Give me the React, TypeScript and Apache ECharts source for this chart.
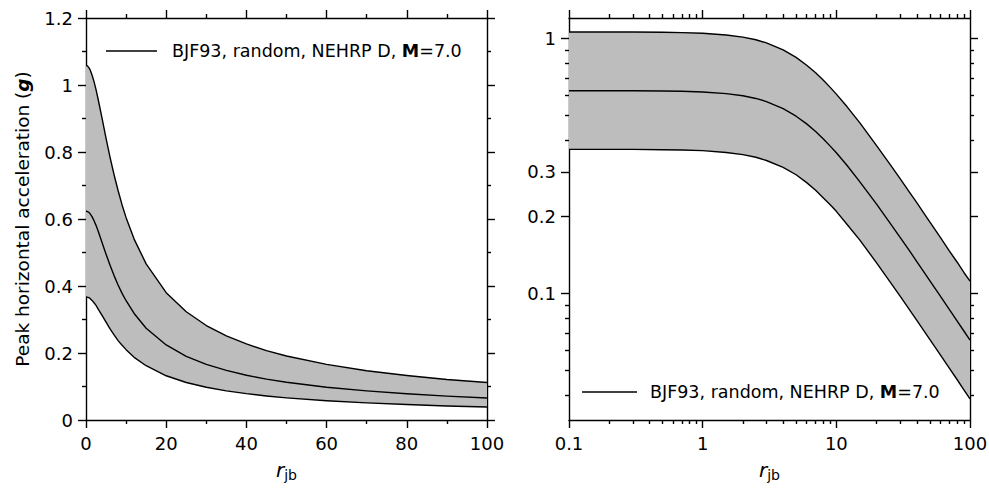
import React, { useEffect, useRef } from 'react';
import * as echarts from 'echarts';

// ---- data (BJF93, random component, NEHRP D, M = 7.0) ----
const SERIES_NAME = 'BJF93, random, NEHRP D, M = 7.0';
const distances = [0, 0.1, 0.2, 0.3, 0.5, 0.7, 1, 1.5, 2, 2.5, 3, 4, 5, 6, 7, 8, 9, 10, 12, 15, 20, 25, 30, 35, 40, 45, 50, 60, 70, 80, 90, 100];
const pgaMedian = [0.623, 0.623, 0.623, 0.623, 0.621, 0.620, 0.616, 0.607, 0.595, 0.581, 0.565, 0.530, 0.495, 0.462, 0.431, 0.403, 0.378, 0.356, 0.318, 0.274, 0.224, 0.190, 0.166, 0.148, 0.1335, 0.122, 0.1125, 0.0978, 0.0868, 0.0782, 0.0714, 0.0658];
const pgaUpper = [1.058, 1.058, 1.058, 1.057, 1.055, 1.052, 1.046, 1.030, 1.010, 0.986, 0.959, 0.901, 0.841, 0.784, 0.732, 0.685, 0.642, 0.604, 0.540, 0.466, 0.380, 0.323, 0.282, 0.251, 0.227, 0.207, 0.191, 0.166, 0.147, 0.133, 0.121, 0.112];
const pgaLower = [0.367, 0.367, 0.367, 0.367, 0.366, 0.365, 0.363, 0.357, 0.350, 0.342, 0.332, 0.312, 0.292, 0.272, 0.254, 0.237, 0.223, 0.210, 0.187, 0.162, 0.132, 0.112, 0.0978, 0.0870, 0.0786, 0.0718, 0.0662, 0.0576, 0.0511, 0.0461, 0.0420, 0.0387];

// ---- tick labels ----
const linXTicks = [0, 20, 40, 60, 80, 100];
const linYTicks = [0, 0.2, 0.4, 0.6, 0.8, 1, 1.2];
const logXTicks = [0.1, 1, 10, 100];
const logXMinor = [0.2, 0.3, 0.4, 0.5, 0.6, 0.7, 0.8, 0.9, 2, 3, 4, 5, 6, 7, 8, 9, 20, 30, 40, 50, 60, 70, 80, 90];
const logYTicks = [0.1, 0.2, 0.3, 1];
const logYMinor = [0.04, 0.05, 0.06, 0.07, 0.08, 0.09, 0.4, 0.5, 0.6, 0.7, 0.8, 0.9];
const logYRange = [0.032, 1.2];

const FONT = 'DejaVu Sans';
const BLACK = '#000';
const BAND = '#bdbdbd';
const LW = 1.4;
const TICK_FS = 18;

const lg = (v: number) => Math.log10(v);
const fmtFrom = (ticks: number[]) => (v: number) => {
  const t = ticks.find((k) => Math.abs(lg(k) - v) < 1e-6);
  return t === undefined ? '' : String(t);
};

const lineStyle = { color: BLACK, width: LW };
const labelStyle = { fontFamily: FONT, fontSize: TICK_FS, color: BLACK };
const xNameRich = {
  r: { fontFamily: FONT, fontSize: 20, fontStyle: 'italic', color: BLACK },
  s: { fontFamily: FONT, fontSize: 14, color: BLACK, padding: [10, 0, 0, 0] },
};

function baseAxis(extra: any) {
  return {
    axisLine: { show: true, onZero: false, lineStyle },
    axisTick: { show: true, inside: false, length: 8, lineStyle },
    splitLine: { show: false },
    axisLabel: { show: false },
    ...extra,
  };
}

function bandSeries(xi: number, yi: number, xs: number[], lo: number[], hi: number[]) {
  return {
    type: 'custom',
    xAxisIndex: xi,
    yAxisIndex: yi,
    silent: true,
    z: 1,
    data: [[xs[0], lo[0]]],
    renderItem: (_p: any, api: any) => {
      const pts: number[][] = [];
      for (let i = 0; i < xs.length; i++) pts.push(api.coord([xs[i], hi[i]]));
      for (let i = xs.length - 1; i >= 0; i--) pts.push(api.coord([xs[i], lo[i]]));
      return { type: 'polygon', shape: { points: pts }, style: { fill: BAND, stroke: null } };
    },
  };
}

function lineSeries(name: string, xi: number, yi: number, xs: number[], ys: number[]) {
  return {
    type: 'line',
    name,
    xAxisIndex: xi,
    yAxisIndex: yi,
    data: xs.map((x, i) => [x, ys[i]]),
    symbol: 'none',
    showSymbol: false,
    lineStyle: { ...lineStyle, join: 'round' },
    itemStyle: { color: BLACK },
    z: 3,
    silent: true,
  };
}

export default function App() {
  const ref = useRef<HTMLDivElement>(null);
  useEffect(() => {
    document.body.style.margin = '0';
    if (!ref.current) return;
    const chart = echarts.init(ref.current, undefined, { renderer: 'svg' });

    const posIdx = distances.map((d, i) => (d > 0 ? i : -1)).filter((i) => i >= 0);
    const xsLog = posIdx.map((i) => distances[i]);
    const pick = (arr: number[]) => posIdx.map((i) => arr[i]);

    const linMinor = { show: true, splitNumber: 2, length: 4, lineStyle };
    const xName = '{r|r}{s|jb}';

    const option: any = {
      animation: false,
      backgroundColor: '#fff',
      grid: [
        { left: 86, right: 502, top: 18, bottom: 68, outerBoundsMode: 'none' },
        { left: 569, right: 19, top: 18, bottom: 68, outerBoundsMode: 'none' },
      ],
      legend: [0, 1].map((k) => ({
        data: [SERIES_NAME],
        left: k === 0 ? 106 : 582,
        top: k === 0 ? 42 : 383,
        padding: 0,
        icon: 'rect',
        itemWidth: k === 0 ? 51 : 55,
        itemHeight: 1.4,
        selectedMode: false,
        formatter: () => '{p|BJF93, random, NEHRP D, }{b|M}{n|=7.0}',
        textStyle: {
          fontFamily: FONT,
          fontSize: 17.5,
          color: BLACK,
          rich: {
            p: { fontFamily: FONT, fontSize: 17.5, color: BLACK, padding: [0, 0, 0, k === 0 ? 10 : 8] },
            b: { fontFamily: FONT, fontSize: 17.5, color: BLACK, fontWeight: 'bold' },
            n: { fontFamily: FONT, fontSize: 17.5, color: BLACK },
          },
        },
      })),
      xAxis: [
        // left panel
        baseAxis({
          gridIndex: 0, type: 'value', position: 'bottom',
          min: linXTicks[0], max: linXTicks[linXTicks.length - 1], interval: linXTicks[1] - linXTicks[0],
          minorTick: linMinor,
          axisLabel: { show: true, margin: 14, ...labelStyle },
          name: xName, nameLocation: 'middle', nameGap: 38,
          nameTextStyle: { rich: xNameRich },
        }),
        baseAxis({
          gridIndex: 0, type: 'value', position: 'top',
          min: linXTicks[0], max: linXTicks[linXTicks.length - 1], interval: linXTicks[1] - linXTicks[0],
          minorTick: linMinor,
        }),
        // right panel data axis (log)
        {
          gridIndex: 1, type: 'log', logBase: 10, min: logXTicks[0], max: logXTicks[logXTicks.length - 1], show: false,
        },
        // right panel drawn axes (in log10 units)
        baseAxis({
          gridIndex: 1, type: 'value', position: 'bottom',
          min: lg(logXTicks[0]), max: lg(logXTicks[logXTicks.length - 1]),
          axisTick: { show: true, length: 8, lineStyle, customValues: logXTicks.map(lg) },
          axisLabel: { show: true, margin: 14, ...labelStyle, customValues: logXTicks.map(lg), formatter: fmtFrom(logXTicks) },
          name: xName, nameLocation: 'middle', nameGap: 38,
          nameTextStyle: { rich: xNameRich },
        }),
        baseAxis({
          gridIndex: 1, type: 'value', position: 'bottom',
          min: lg(logXTicks[0]), max: lg(logXTicks[logXTicks.length - 1]),
          axisLine: { show: false, onZero: false },
          axisTick: { show: true, length: 4, lineStyle, customValues: logXMinor.map(lg) },
        }),
        baseAxis({
          gridIndex: 1, type: 'value', position: 'top',
          min: lg(logXTicks[0]), max: lg(logXTicks[logXTicks.length - 1]),
          axisTick: { show: true, length: 8, lineStyle, customValues: logXTicks.map(lg) },
        }),
        baseAxis({
          gridIndex: 1, type: 'value', position: 'top',
          min: lg(logXTicks[0]), max: lg(logXTicks[logXTicks.length - 1]),
          axisLine: { show: false, onZero: false },
          axisTick: { show: true, length: 4, lineStyle, customValues: logXMinor.map(lg) },
        }),
      ],
      yAxis: [
        baseAxis({
          gridIndex: 0, type: 'value', position: 'left',
          min: linYTicks[0], max: linYTicks[linYTicks.length - 1], interval: linYTicks[1] - linYTicks[0],
          minorTick: linMinor,
          axisLabel: { show: true, margin: 13, ...labelStyle },
          name: 'Peak horizontal acceleration ({g|g})', nameLocation: 'middle', nameGap: 54,
          nameTextStyle: {
            fontFamily: FONT, fontSize: 18.5, color: BLACK,
            rich: { g: { fontFamily: FONT, fontSize: 18.5, color: BLACK, fontWeight: 'bold', fontStyle: 'italic' } },
          },
        }),
        baseAxis({
          gridIndex: 0, type: 'value', position: 'right',
          min: linYTicks[0], max: linYTicks[linYTicks.length - 1], interval: linYTicks[1] - linYTicks[0],
          minorTick: linMinor,
        }),
        {
          gridIndex: 1, type: 'log', logBase: 10, min: logYRange[0], max: logYRange[1], show: false,
        },
        baseAxis({
          gridIndex: 1, type: 'value', position: 'left',
          min: lg(logYRange[0]), max: lg(logYRange[1]),
          axisTick: { show: true, length: 8, lineStyle, customValues: logYTicks.map(lg) },
          axisLabel: { show: true, margin: 13, ...labelStyle, customValues: logYTicks.map(lg), formatter: fmtFrom(logYTicks) },
        }),
        baseAxis({
          gridIndex: 1, type: 'value', position: 'left',
          min: lg(logYRange[0]), max: lg(logYRange[1]),
          axisLine: { show: false, onZero: false },
          axisTick: { show: true, length: 4, lineStyle, customValues: logYMinor.map(lg) },
        }),
        baseAxis({
          gridIndex: 1, type: 'value', position: 'right',
          min: lg(logYRange[0]), max: lg(logYRange[1]),
          axisTick: { show: true, length: 8, lineStyle, customValues: logYTicks.map(lg) },
        }),
        baseAxis({
          gridIndex: 1, type: 'value', position: 'right',
          min: lg(logYRange[0]), max: lg(logYRange[1]),
          axisLine: { show: false, onZero: false },
          axisTick: { show: true, length: 4, lineStyle, customValues: logYMinor.map(lg) },
        }),
      ],
      series: [
        bandSeries(0, 0, distances, pgaLower, pgaUpper),
        lineSeries('upper', 0, 0, distances, pgaUpper),
        lineSeries(SERIES_NAME, 0, 0, distances, pgaMedian),
        lineSeries('lower', 0, 0, distances, pgaLower),
        bandSeries(2, 2, xsLog, pick(pgaLower), pick(pgaUpper)),
        lineSeries('upper', 2, 2, xsLog, pick(pgaUpper)),
        lineSeries(SERIES_NAME, 2, 2, xsLog, pick(pgaMedian)),
        lineSeries('lower', 2, 2, xsLog, pick(pgaLower)),
      ],
    };
    chart.setOption(option);
    return () => chart.dispose();
  }, []);
  return <div ref={ref} style={{ width: 989, height: 488, position: 'fixed', left: 0, top: 0, background: '#fff' }} />;
}
